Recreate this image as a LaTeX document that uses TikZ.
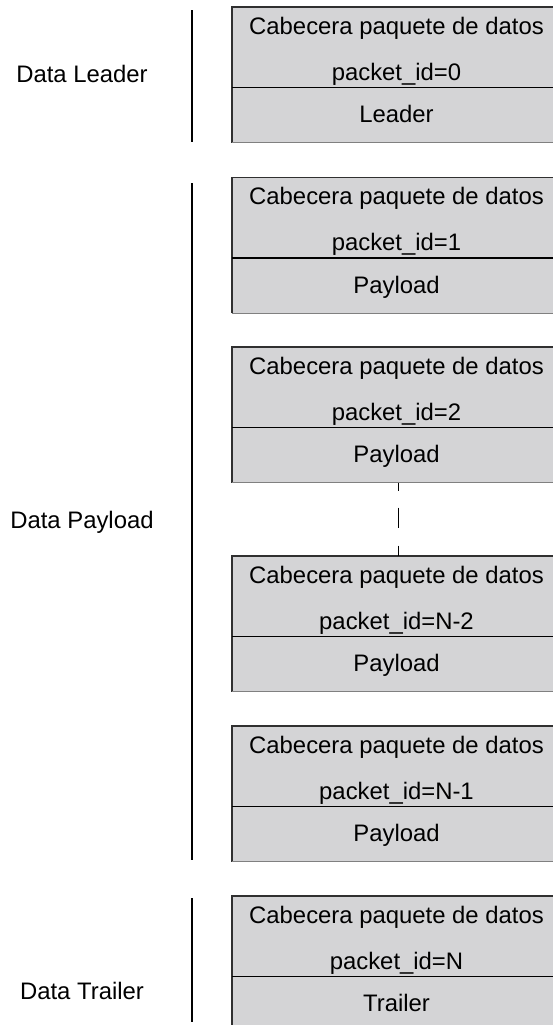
\documentclass[tikz,border=0pt]{standalone}
\usepackage{fontspec}
\setmainfont{Liberation Sans}
\definecolor{boxfill}{HTML}{D4D4D6}
\definecolor{edgedark}{HTML}{303030}
\definecolor{edgegray}{HTML}{808080}
\begin{document}
\begin{tikzpicture}[x=0.75pt,y=-0.75pt,
  font=\fontsize{17.9}{20}\selectfont,
  hdr/.style={fill=boxfill, minimum width=246.75pt, minimum height=60pt, inner sep=0pt, anchor=north west},
  low/.style={fill=boxfill, minimum width=246.75pt, minimum height=41.25pt, inner sep=0pt, anchor=north west},
  txt/.style={anchor=base, inner sep=0pt},
  darkedge/.style={draw=edgedark, line width=0.8pt},
  grayedge/.style={draw=edgegray, line width=0.8pt},
  divider/.style={draw=black, line width=1.1pt},
  bracket/.style={draw=black, line width=0.9pt},
  gap/.style={draw=black, line width=0.9pt, dash pattern=on 6pt off 12.75pt on 15pt off 13.5pt on 8.25pt}]
\useasboundingbox (0,0) rectangle (553,1025);
\clip (0,0) rectangle (553,1025);
\fill[white] (0,0) rectangle (553,1025);

\foreach \n/\T/\id/\lo in {1/7/0/Leader, 2/177.5/1/Payload, 3/347/2/Payload, 4/556/N-2/Payload, 5/726/N-1/Payload, 6/896/N/Trailer}{
  \node[hdr] (h\n) at (232,\T) {};
  \node[low] (l\n) at (232,\T+80) {};
  \path[darkedge] (l\n.south west) -- (h\n.north west) -- (h\n.north east);
  \path[divider] (h\n.south west) -- (h\n.south east);
  \path[grayedge] (l\n.south west) -- (l\n.south east);
  \node[txt] (c\n) at (396.5,\T+27) {Cabecera paquete de datos};
  \node[txt] (p\n) at (396.5,\T+73) {packet\_id=\id};
  \node[txt] (t\n) at (396.5,\T+115.5) {\lo};
}

\path[gap] ([xshift=1.5]l3.south) -- ([xshift=1.5]h4.north);

\coordinate (v1a) at (192,10);
\coordinate (v1b) at (192,142);
\coordinate (v2a) at (192,183);
\coordinate (v2b) at (192,860);
\coordinate (v3a) at (192,898);
\coordinate (v3b) at (192,1022);
\path[bracket] (v1a) -- (v1b);
\path[bracket] (v2a) -- (v2b);
\path[bracket] (v3a) -- (v3b);

\node[txt] (dl) at (82,82.5) {Data Leader};
\node[txt] (dp) at (82,528) {Data Payload};
\node[txt] (dt) at (82,999) {Data Trailer};
\end{tikzpicture}
\end{document}
